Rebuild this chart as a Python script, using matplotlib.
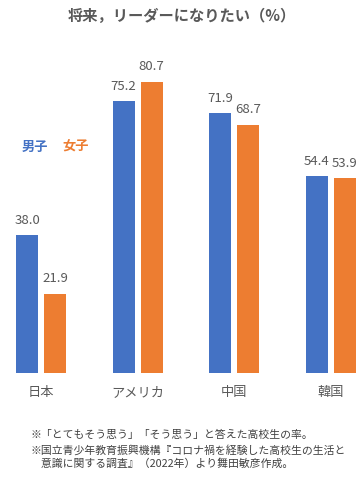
import matplotlib.pyplot as plt
import numpy as np

plt.rcParams['font.family'] = ['Noto Sans CJK JP', 'DejaVu Sans']

# data
countries = ["日本", "アメリカ", "中国", "韓国"]
boys = [38.0, 75.2, 71.9, 54.4]
girls = [21.9, 80.7, 68.7, 53.9]

title = "将来，リーダーになりたい（%）"
notes = [
    "※「とてもそう思う」「そう思う」と答えた高校生の率。",
    "※国立青少年教育振興機構『コロナ禍を経験した高校生の生活と",
    "　意識に関する調査』（2022年）より舞田敏彦作成。",
]

blue = "#4472C4"
orange = "#ED7D31"
gray = "#595959"

fig = plt.figure(figsize=(3.64, 4.86), dpi=100)
ax = fig.add_axes([0, (486 - 372.5) / 486, 1, 324.5 / 486])

x = np.arange(len(countries))
w = 0.228
off = 0.145
b1 = ax.bar(x - off, boys, w, color=blue)
b2 = ax.bar(x + off, girls, w, color=orange)
for bars in (b1, b2):
    ax.bar_label(bars, fmt="%.1f", padding=6, color=gray, fontsize=9.5)

ax.set_xlim(-0.425, 3.347)
ax.set_ylim(0, 90)
ax.set_xticks(x)
ax.set_xticklabels(countries, color=gray, fontsize=9.5)
ax.tick_params(axis="x", length=0, pad=10)
ax.set_yticks([])
for s in ax.spines.values():
    s.set_visible(False)

fig.text(0.5, 1 - 16 / 486, title, ha="center", va="center",
         fontsize=11, fontweight="bold", color=gray)

fig.text(22 / 364, 1 - 147 / 486, "男子", ha="left", va="center",
         fontsize=9.5, fontweight="bold", color=blue)
fig.text(62 / 364, 1 - 147 / 486, "女子", ha="left", va="center",
         fontsize=9.5, fontweight="bold", color=orange)

for i, (line, y) in enumerate(zip(notes, [435, 450, 464])):
    fig.text(30 / 364, 1 - y / 486, line, ha="left", va="center",
             fontsize=7.8, color="#404040")

fig.savefig("out.png", dpi=100)
